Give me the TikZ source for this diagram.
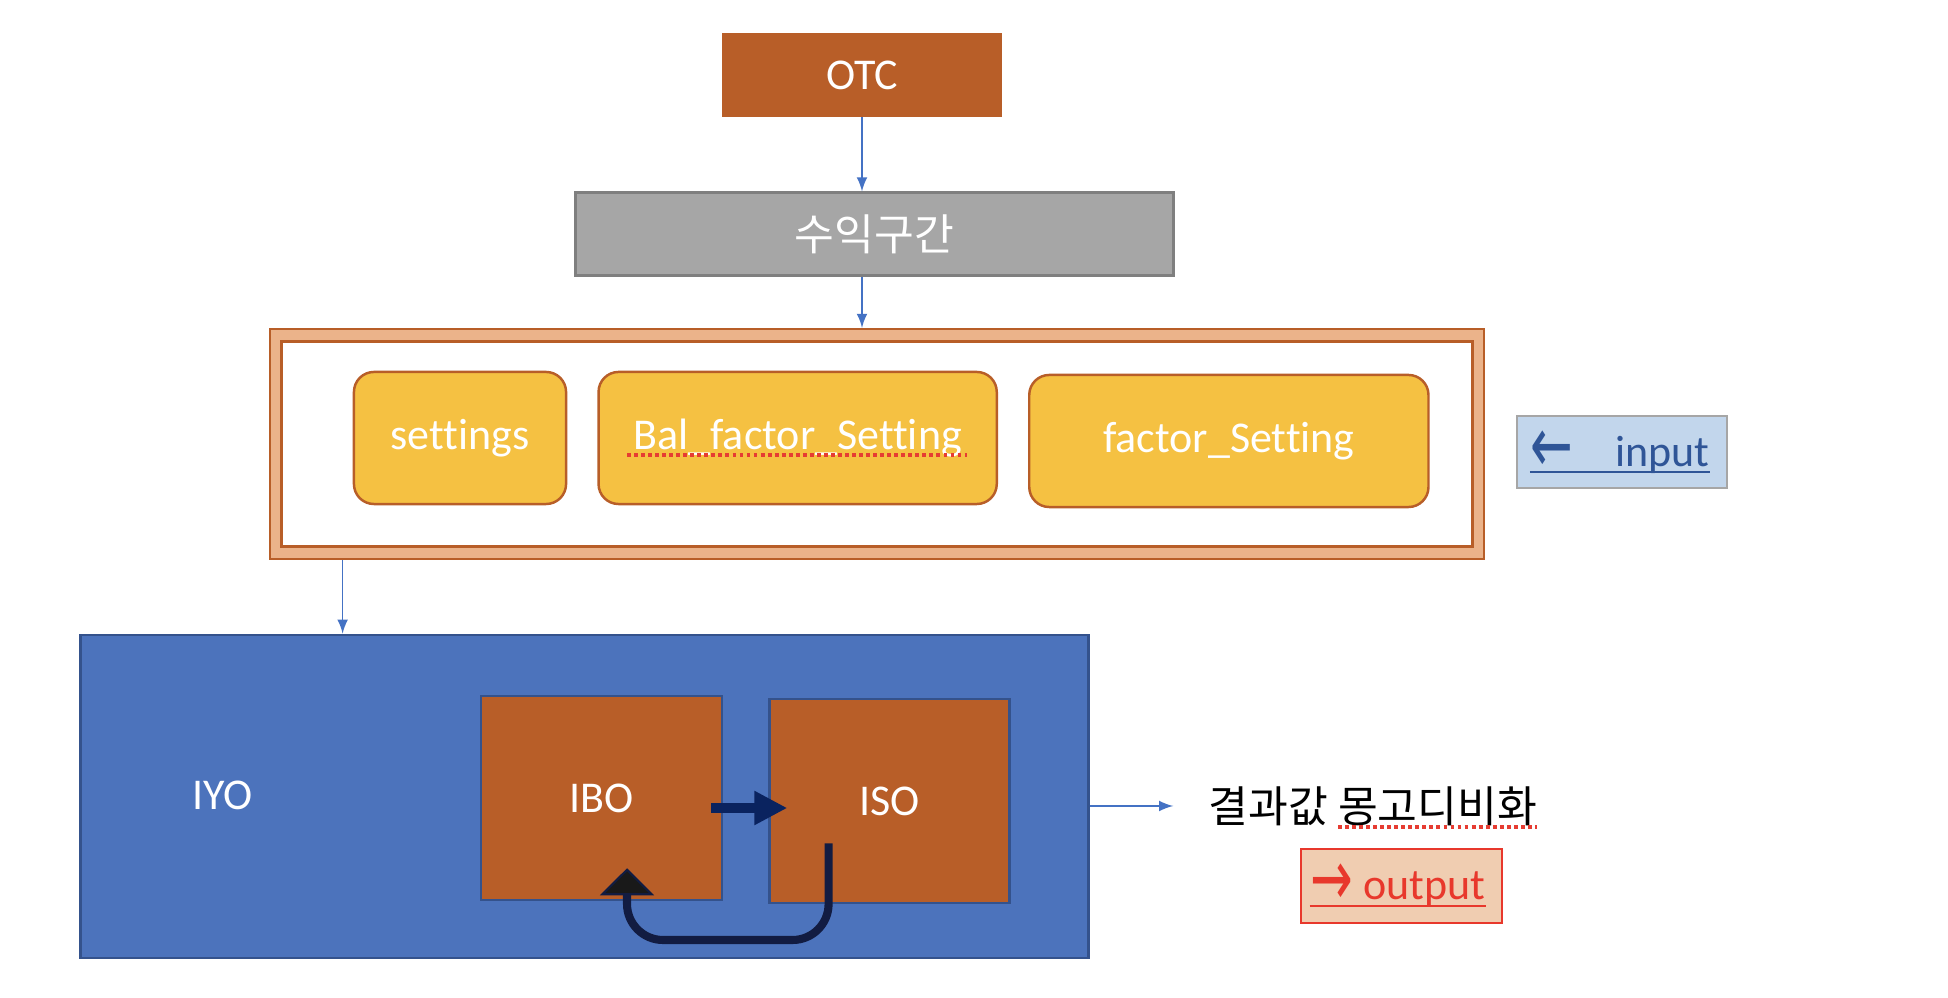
\documentclass[tikz,border=0pt]{standalone}
\usepackage{fontspec}
\usepackage{graphicx}
\setmainfont{Carlito}[Ligatures=NoCommon]
\newfontfamily\krfont{Noto Sans CJK KR}
\newfontfamily\arrowfont{DejaVu Sans}
\newcommand{\tagarrow}[1]{{\arrowfont\fontsize{14.5}{15}\selectfont\raisebox{-1.5pt}{\scalebox{1}[1.55]{#1}}}}
\usetikzlibrary{positioning,arrows.meta}
\definecolor{boxbrown}{RGB}{184,94,40}
\definecolor{gainfill}{RGB}{166,166,166}
\definecolor{gainline}{RGB}{127,127,127}
\definecolor{framepeach}{RGB}{235,179,138}
\definecolor{setyellow}{RGB}{245,193,66}
\definecolor{linkblue}{RGB}{68,114,196}
\definecolor{iyoblue}{RGB}{76,115,188}
\definecolor{iyoline}{RGB}{52,82,140}
\definecolor{stepnavy}{RGB}{10,35,95}
\definecolor{loopnavy}{RGB}{18,28,66}
\definecolor{inputfill}{RGB}{194,214,236}
\definecolor{inputline}{RGB}{166,166,166}
\definecolor{inputblue}{RGB}{47,85,151}
\definecolor{outfill}{RGB}{240,205,177}
\definecolor{outred}{RGB}{232,56,44}
\definecolor{squigred}{RGB}{230,60,50}

\begin{document}
\begin{tikzpicture}[x=0.01cm, y=-0.01cm,
    basebox/.style={draw, inner sep=0pt, text=white, font=\fontsize{12.5}{15}\selectfont},
    brownbox/.style={basebox, fill=boxbrown, draw=boxbrown},
    yellowbox/.style={basebox, fill=setyellow, draw=boxbrown, line width=0.7pt, rounded corners=0.2cm, minimum width=3.98cm, minimum height=1.32cm},
    kortext/.style={font=\krfont\fontsize{12.3}{14}\selectfont},
    tagtext/.style={inner sep=0pt, anchor=base, font=\fontsize{12.5}{15}\selectfont},
    link/.style={draw=linkblue, line width=0.4pt, -latex},
    squiggle/.style={draw=squigred, line width=1pt, dash pattern=on 1.1pt off 0.9pt}]
    \useasboundingbox (0,0) rectangle (1948,998);

    % top of the chain
    \node[brownbox, minimum width=2.78cm, minimum height=0.83cm] (otc) at (862,75) {OTC};
    \node[basebox, kortext, fill=gainfill, draw=gainline, line width=0.85pt, minimum width=5.97cm, minimum height=0.82cm] (gain) at (874.5,234) {수익구간};

    % settings frame
    \node[basebox, fill=framepeach, draw=boxbrown, line width=0.6pt, minimum width=12.14cm, minimum height=2.30cm] (frame) at (877,444) {};
    \node[basebox, fill=white, draw=boxbrown, line width=0.85pt, minimum width=11.90cm, minimum height=2.04cm] (inner) at (frame.center) {};
    \node[yellowbox, minimum width=2.12cm] (settings) at (460,438) {settings};
    \node[yellowbox, right=0.3cm of settings] (balfactor) {Bal\_factor\_Setting};
    \node[yellowbox, minimum width=3.99cm, right=0.3cm of balfactor, yshift=-0.03cm] (factor) {factor\_Setting};

    % input tag
    \node[basebox, fill=inputfill, draw=inputline, line width=0.7pt, minimum width=2.10cm, minimum height=0.72cm] (input) at (1622,452) {};
    \node[tagtext, text=inputblue] (inputtext) at (1620,467) {\tagarrow{←}\hspace{12pt}input};
    \draw[inputblue, line width=0.7pt] ([yshift=-0.05cm]inputtext.base west) -- ([yshift=-0.05cm]inputtext.base east);

    % IYO block
    \node[basebox, fill=iyoblue, draw=iyoline, line width=0.7pt, minimum width=10.07cm, minimum height=3.23cm] (iyo) at (584.5,796.5) {};
    \node[text=white, font=\fontsize{12.5}{15}\selectfont] (iyolabel) at (223,795) {IYO};
    \node[brownbox, draw=iyoline, line width=0.7pt, minimum width=2.41cm, minimum height=2.04cm] (ibo) at (601.5,798) {IBO};
    \node[brownbox, draw=iyoline, line width=0.7pt, minimum width=2.40cm, minimum height=2.04cm, right=0.45cm of ibo, yshift=-0.03cm] (iso) {ISO};

    % result and output tag
    \node[kortext, inner xsep=0.35cm] (result) at (1373,806) {결과값 몽고디비화};
    \node[basebox, fill=outfill, draw=outred, line width=0.8pt, minimum width=2.01cm, minimum height=0.74cm] (output) at (1401.5,886) {};
    \node[tagtext, text=outred] (outputtext) at (1398,900) {\tagarrow{→}\hspace{3pt}output};
    \draw[outred, line width=0.7pt] ([yshift=-0.06cm]outputtext.base west) -- ([yshift=-0.06cm]outputtext.base east);

    % connectors
    \draw[link] (otc.south) -- (otc.south |- gain.north);
    \draw[link] (otc.south |- gain.south) -- (otc.south |- frame.north);
    \coordinate (drop) at ([xshift=0.74cm]frame.south west);
    \draw[link] (drop) -- (drop |- iyo.north);
    \draw[link] (iyo.east |- result.west) -- (result.west);

    % arrows inside IYO
    \coordinate (stepout) at ([xshift=-0.12cm, yshift=-0.1cm]ibo.east);
    \draw[stepnavy, line width=0.1cm, -{Triangle[length=0.33cm, width=0.32cm]}] (stepout) -- ([xshift=0.19cm]iso.west |- stepout);
    \coordinate (isoout) at ([xshift=-0.61cm, yshift=0.61cm]iso.south);
    \coordinate (iboin) at ([xshift=0.255cm, yshift=0.33cm]ibo.south);
    \draw[loopnavy, line width=2.3pt, rounded corners=0.36cm, -{Triangle[length=0.27cm, width=0.54cm, fill=black!90, line width=0.6pt]}] (isoout) -- (isoout |- 0,940) -- (iboin |- 0,940) -- (iboin);

    % spelling marks
    \draw[squiggle] (627,455) -- (967,455);
    \draw[squiggle] (1338,827) -- (1537,827);
\end{tikzpicture}
\end{document}
